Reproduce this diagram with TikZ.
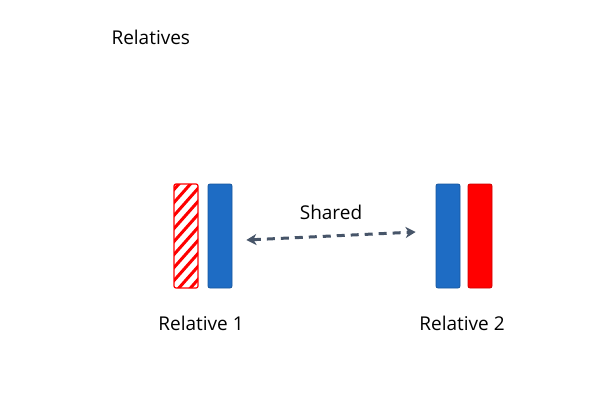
\documentclass[tikz,border=0pt]{standalone}
\usepackage{fontspec}
\setmainfont{Open Sans}
\usetikzlibrary{arrows.meta}
\definecolor{bblue}{HTML}{1E6CC4}
\definecolor{rred}{HTML}{FF0000}
\definecolor{agray}{HTML}{475569}
\begin{document}
\begin{tikzpicture}[x=1pt,y=-1pt,
  bar/.style={rounded corners=2pt,draw=#1!80!black,fill=#1,line width=0.8pt},
  lbl/.style={font=\fontsize{19}{22}\selectfont,text=black}]
\useasboundingbox (0,0) rectangle (615,409);
\node[lbl,anchor=west] (title) at (108,37) {Relatives};
% hatched bar
\begin{scope}
\clip[rounded corners=2pt] (174,184) rectangle (198,288);
\foreach \k in {0,...,12} {
  \draw[rred,line width=3pt] (170,{194+13*\k}) -- (202,{194+13*\k-36});
}
\end{scope}
\draw[rred,rounded corners=2pt,line width=1.2pt] (174,184) rectangle (198,288);
\node[bar=bblue,minimum width=24pt,minimum height=104pt,inner sep=0pt] (b1) at (220,236) {};
\node[bar=bblue,minimum width=24pt,minimum height=104pt,inner sep=0pt] (b2) at (448,236) {};
\node[bar=rred,minimum width=24pt,minimum height=104pt,inner sep=0pt] (r2) at (480,236) {};
\coordinate (h1) at (186,236);
\draw[agray,line width=3pt,dash pattern=on 8pt off 6pt,{Stealth[length=10pt,width=11pt,inset=3pt]}-{Stealth[length=10pt,width=11pt,inset=3pt]}] (b1.east)++(14,4) -- ([xshift=-20pt,yshift=4pt]b2.west);
\node[lbl] (sh) at (331,212) {Shared};
\node[lbl] (rel1) at (201,323) {Relative 1};
\node[lbl] (rel2) at (462,323) {Relative 2};
\end{tikzpicture}
\end{document}
